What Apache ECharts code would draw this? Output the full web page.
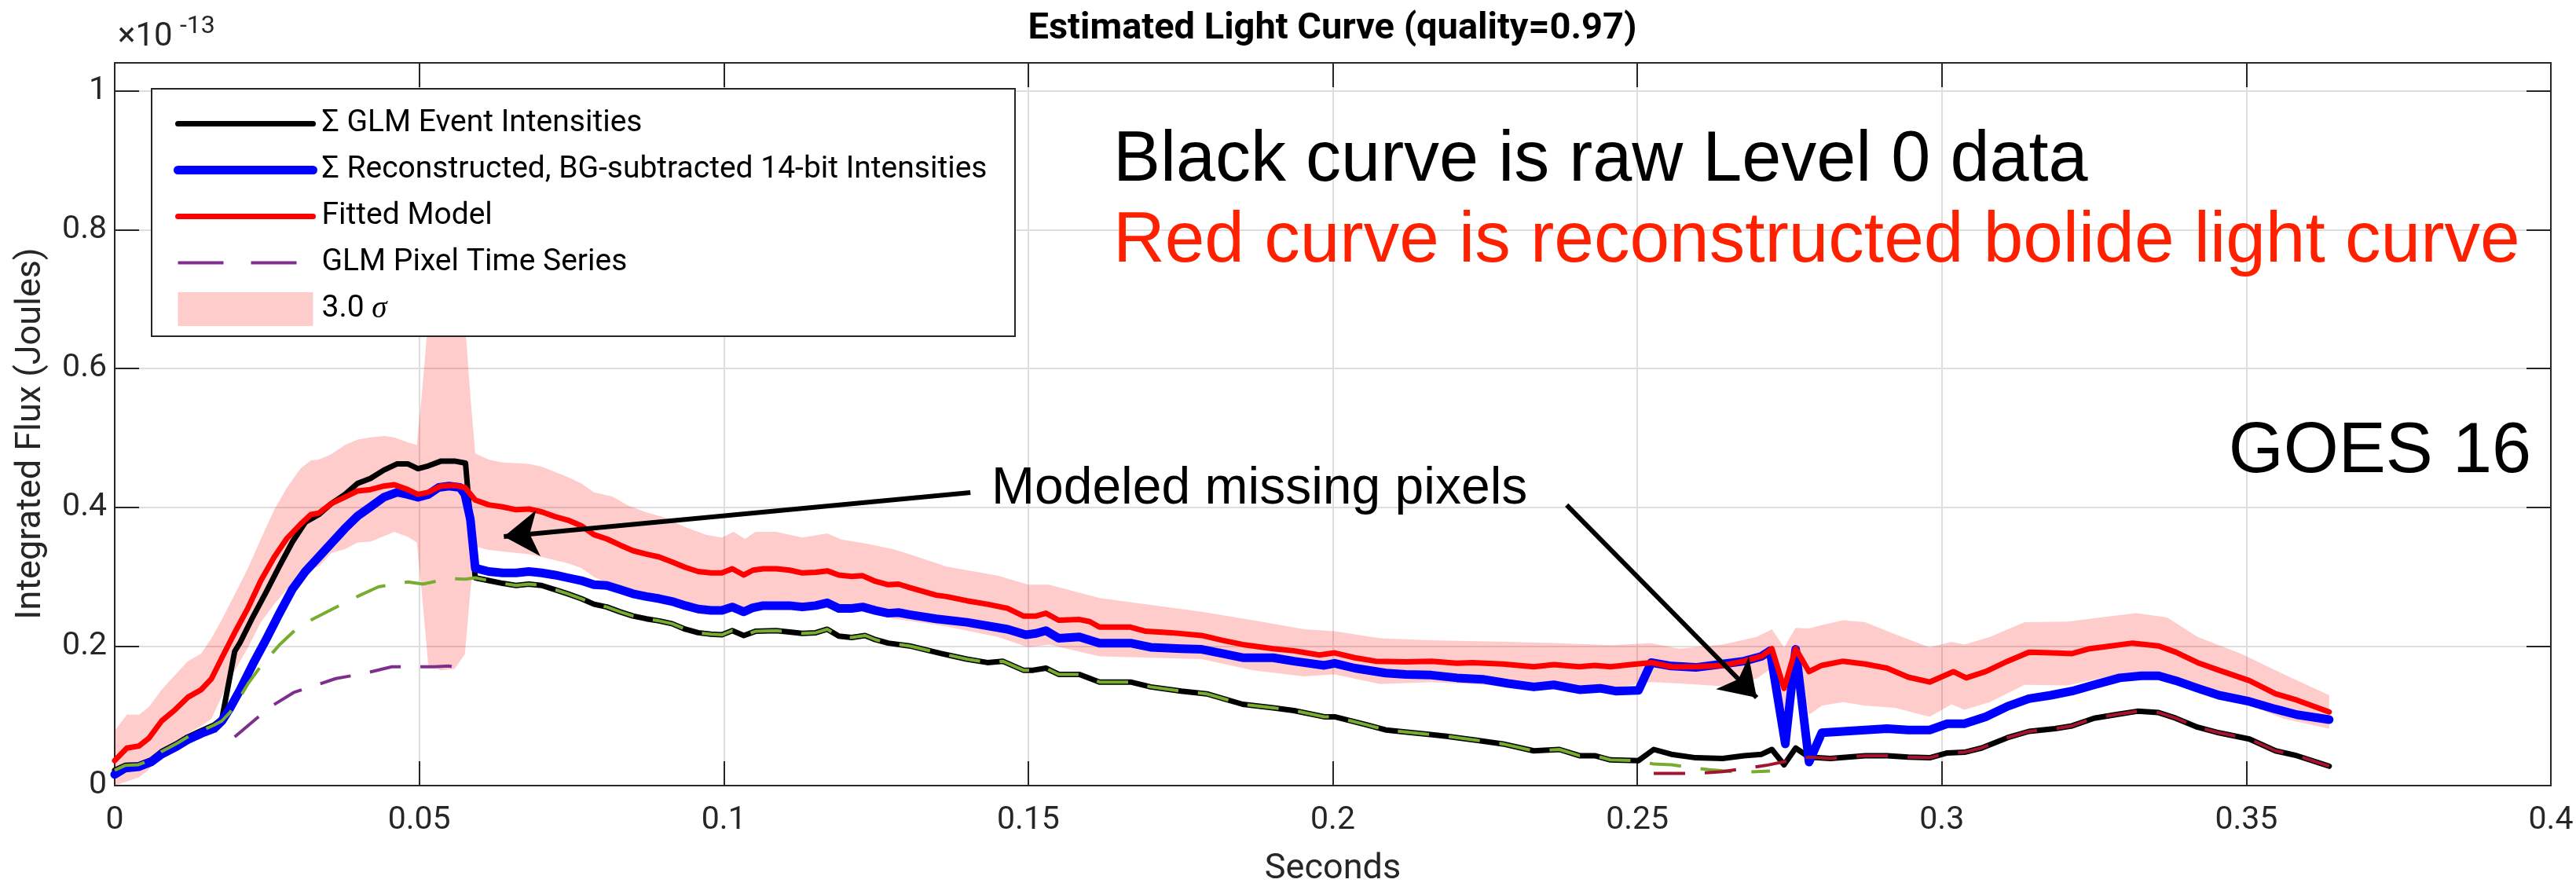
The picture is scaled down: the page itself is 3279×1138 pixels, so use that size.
<!DOCTYPE html>
<html>
<head>
<meta charset="utf-8">
<script src="https://cdn.jsdelivr.net/npm/echarts@6/dist/echarts.min.js"></script>
<style>
  html, body { margin: 0; padding: 0; background: #fff; }
  #chart { width: 3279px; height: 1138px; }
</style>
</head>
<body>
<div id="chart"></div>
<script>
// values, [seconds, flux x1e-13 J]
const glmEvent = [[0,0.022],[0.0017,0.029],[0.0039,0.03],[0.006,0.037],[0.0077,0.049],[0.0103,0.061],[0.012,0.07],[0.0142,0.079],[0.0163,0.087],[0.0176,0.096],[0.0189,0.156],[0.0197,0.193],[0.0206,0.206],[0.0227,0.243],[0.0249,0.279],[0.027,0.315],[0.0292,0.351],[0.0313,0.379],[0.0335,0.39],[0.0356,0.406],[0.0378,0.419],[0.0399,0.435],[0.042,0.442],[0.0442,0.454],[0.0464,0.463],[0.0481,0.463],[0.0498,0.456],[0.0515,0.46],[0.0536,0.467],[0.0558,0.467],[0.0576,0.464],[0.0592,0.299],[0.0614,0.295],[0.0637,0.291],[0.0659,0.288],[0.068,0.29],[0.0701,0.288],[0.0723,0.282],[0.0744,0.276],[0.0766,0.269],[0.0787,0.261],[0.0808,0.257],[0.083,0.25],[0.0851,0.244],[0.0873,0.24],[0.0894,0.237],[0.0915,0.233],[0.0937,0.225],[0.0958,0.22],[0.0979,0.218],[0.0997,0.217],[0.1014,0.223],[0.1033,0.216],[0.1052,0.222],[0.1086,0.223],[0.1108,0.221],[0.1129,0.219],[0.1151,0.22],[0.117,0.225],[0.1189,0.215],[0.121,0.213],[0.1232,0.216],[0.1249,0.21],[0.127,0.205],[0.1305,0.201],[0.1357,0.19],[0.1399,0.182],[0.1433,0.177],[0.1458,0.179],[0.1492,0.166],[0.1508,0.166],[0.1529,0.169],[0.155,0.16],[0.1584,0.16],[0.1617,0.149],[0.1668,0.149],[0.1701,0.142],[0.1751,0.136],[0.1793,0.132],[0.1852,0.117],[0.1902,0.112],[0.1936,0.108],[0.1986,0.099],[0.2003,0.099],[0.2053,0.088],[0.2087,0.08],[0.2154,0.074],[0.2187,0.071],[0.2238,0.065],[0.2279,0.06],[0.233,0.05],[0.2372,0.052],[0.2405,0.043],[0.243,0.043],[0.2456,0.037],[0.2502,0.036],[0.2527,0.052],[0.2556,0.045],[0.2596,0.04],[0.264,0.039],[0.2675,0.043],[0.2704,0.045],[0.2721,0.052],[0.2741,0.03],[0.276,0.054],[0.2782,0.041],[0.2817,0.039],[0.2874,0.043],[0.291,0.043],[0.2945,0.041],[0.298,0.04],[0.3009,0.047],[0.3037,0.048],[0.3065,0.054],[0.3108,0.069],[0.3143,0.078],[0.3186,0.082],[0.3214,0.086],[0.325,0.097],[0.3285,0.102],[0.3321,0.107],[0.3356,0.105],[0.3384,0.097],[0.342,0.084],[0.3455,0.076],[0.3505,0.067],[0.3548,0.05],[0.3583,0.043],[0.3636,0.028]];

const reconstructed = [[0,0.016],[0.0017,0.025],[0.0039,0.027],[0.006,0.034],[0.0077,0.045],[0.0103,0.057],[0.012,0.066],[0.0142,0.075],[0.0163,0.082],[0.0176,0.093],[0.0189,0.111],[0.0206,0.138],[0.0227,0.175],[0.0249,0.211],[0.027,0.247],[0.0292,0.283],[0.0313,0.308],[0.0335,0.329],[0.0356,0.349],[0.0378,0.37],[0.0399,0.388],[0.042,0.401],[0.0442,0.415],[0.0464,0.422],[0.0481,0.419],[0.0498,0.415],[0.0515,0.419],[0.0532,0.429],[0.0549,0.431],[0.0567,0.429],[0.0575,0.419],[0.0584,0.383],[0.0592,0.313],[0.0614,0.308],[0.0637,0.306],[0.0659,0.306],[0.068,0.308],[0.0701,0.306],[0.0723,0.303],[0.0744,0.299],[0.0766,0.295],[0.0787,0.289],[0.0808,0.288],[0.083,0.282],[0.0851,0.276],[0.0873,0.272],[0.0894,0.269],[0.0915,0.265],[0.0937,0.259],[0.0958,0.254],[0.0979,0.252],[0.0997,0.252],[0.1014,0.257],[0.1033,0.25],[0.1048,0.256],[0.1065,0.259],[0.1108,0.259],[0.1129,0.257],[0.1151,0.259],[0.117,0.263],[0.1189,0.255],[0.121,0.255],[0.1228,0.257],[0.1249,0.252],[0.127,0.248],[0.1287,0.249],[0.1305,0.246],[0.1349,0.24],[0.1399,0.235],[0.1466,0.225],[0.1496,0.217],[0.1513,0.219],[0.1529,0.223],[0.155,0.212],[0.1584,0.214],[0.1617,0.205],[0.1668,0.205],[0.1701,0.199],[0.1751,0.197],[0.1785,0.196],[0.1819,0.19],[0.1852,0.184],[0.1902,0.184],[0.1936,0.179],[0.1986,0.173],[0.2003,0.176],[0.2036,0.169],[0.2087,0.162],[0.212,0.16],[0.2162,0.159],[0.2204,0.155],[0.2246,0.153],[0.2288,0.147],[0.233,0.142],[0.2363,0.145],[0.2405,0.138],[0.2439,0.14],[0.2464,0.136],[0.2502,0.137],[0.2523,0.177],[0.2556,0.172],[0.2596,0.17],[0.264,0.175],[0.2675,0.179],[0.2704,0.186],[0.2718,0.194],[0.2743,0.06],[0.276,0.196],[0.2782,0.034],[0.2803,0.076],[0.2838,0.078],[0.2874,0.08],[0.291,0.082],[0.2945,0.08],[0.298,0.08],[0.3009,0.089],[0.3037,0.089],[0.3072,0.099],[0.3108,0.114],[0.3143,0.125],[0.3179,0.13],[0.3214,0.136],[0.325,0.145],[0.3292,0.155],[0.3328,0.158],[0.3356,0.158],[0.3384,0.151],[0.342,0.14],[0.3455,0.13],[0.3505,0.121],[0.3548,0.11],[0.3583,0.102],[0.3636,0.095]];

const fittedModel = [[0,0.036],[0.002,0.054],[0.004,0.057],[0.0056,0.068],[0.0077,0.093],[0.0099,0.109],[0.012,0.127],[0.0142,0.138],[0.0159,0.154],[0.0176,0.184],[0.0197,0.22],[0.0219,0.256],[0.024,0.295],[0.0262,0.329],[0.0283,0.356],[0.0305,0.376],[0.0322,0.39],[0.0335,0.392],[0.0356,0.406],[0.0378,0.415],[0.0399,0.424],[0.042,0.426],[0.0442,0.431],[0.0459,0.433],[0.0481,0.426],[0.0498,0.419],[0.0515,0.422],[0.0536,0.431],[0.0558,0.432],[0.0575,0.429],[0.0592,0.411],[0.0614,0.404],[0.0637,0.401],[0.0659,0.397],[0.068,0.398],[0.0701,0.394],[0.0723,0.387],[0.0744,0.382],[0.0766,0.374],[0.0787,0.361],[0.0808,0.355],[0.083,0.346],[0.0851,0.338],[0.0873,0.333],[0.0894,0.329],[0.0915,0.322],[0.0937,0.314],[0.0958,0.308],[0.0979,0.306],[0.0997,0.306],[0.1014,0.312],[0.1033,0.303],[0.1048,0.31],[0.1065,0.312],[0.1086,0.312],[0.1108,0.31],[0.1129,0.306],[0.1151,0.307],[0.117,0.309],[0.1189,0.303],[0.121,0.301],[0.1228,0.302],[0.1249,0.294],[0.127,0.289],[0.1287,0.29],[0.1305,0.285],[0.1349,0.274],[0.1366,0.272],[0.1399,0.266],[0.1433,0.261],[0.1466,0.255],[0.1492,0.244],[0.1513,0.244],[0.1529,0.248],[0.155,0.238],[0.1584,0.239],[0.1601,0.236],[0.1617,0.228],[0.1668,0.228],[0.1693,0.222],[0.1735,0.22],[0.1785,0.216],[0.1819,0.209],[0.1852,0.203],[0.1902,0.197],[0.1936,0.194],[0.1978,0.188],[0.2003,0.191],[0.2036,0.184],[0.207,0.179],[0.212,0.178],[0.2162,0.179],[0.2204,0.176],[0.2229,0.177],[0.2279,0.175],[0.233,0.171],[0.2363,0.174],[0.2405,0.171],[0.243,0.173],[0.2456,0.171],[0.2489,0.174],[0.2523,0.177],[0.2556,0.171],[0.2596,0.171],[0.264,0.173],[0.2675,0.179],[0.2704,0.186],[0.2721,0.197],[0.2741,0.14],[0.276,0.197],[0.2782,0.164],[0.2803,0.173],[0.2838,0.179],[0.2874,0.175],[0.291,0.169],[0.2945,0.156],[0.298,0.149],[0.3019,0.164],[0.304,0.155],[0.3072,0.164],[0.3108,0.179],[0.3143,0.192],[0.3179,0.191],[0.3214,0.19],[0.3243,0.197],[0.3278,0.201],[0.3313,0.205],[0.3356,0.201],[0.3384,0.192],[0.342,0.177],[0.3455,0.166],[0.3505,0.151],[0.3548,0.132],[0.3583,0.123],[0.3636,0.106]];

// GLM pixel time series (dashed)
const pixelPurple = [[0.0197,0.07],[0.0255,0.113],[0.0294,0.134],[0.0363,0.154],[0.0408,0.161],[0.0455,0.171],[0.0479,0.171],[0.0524,0.171],[0.0549,0.172],[0.0576,0.167]];
const pixelGreen = [[0,0.022],[0.0017,0.029],[0.0039,0.03],[0.006,0.037],[0.0077,0.049],[0.0103,0.061],[0.012,0.07],[0.0142,0.079],[0.0163,0.087],[0.0176,0.093],[0.0189,0.105],[0.0202,0.122],[0.022,0.148],[0.024,0.172],[0.027,0.202],[0.03,0.227],[0.0326,0.24],[0.0369,0.259],[0.0403,0.274],[0.0433,0.286],[0.0481,0.293],[0.0506,0.29],[0.0549,0.298],[0.0576,0.297],[0.0592,0.299],[0.0614,0.295],[0.0637,0.291],[0.0659,0.288],[0.068,0.29],[0.0701,0.288],[0.0723,0.282],[0.0744,0.276],[0.0766,0.269],[0.0787,0.261],[0.0808,0.257],[0.083,0.25],[0.0851,0.244],[0.0873,0.24],[0.0894,0.237],[0.0915,0.233],[0.0937,0.225],[0.0958,0.22],[0.0979,0.218],[0.0997,0.217],[0.1014,0.223],[0.1033,0.216],[0.1052,0.222],[0.1086,0.223],[0.1108,0.221],[0.1129,0.219],[0.1151,0.22],[0.117,0.225],[0.1189,0.215],[0.121,0.213],[0.1232,0.216],[0.1249,0.21],[0.127,0.205],[0.1305,0.201],[0.1357,0.19],[0.1399,0.182],[0.1433,0.177],[0.1458,0.179],[0.1492,0.166],[0.1508,0.166],[0.1529,0.169],[0.155,0.16],[0.1584,0.16],[0.1617,0.149],[0.1668,0.149],[0.1701,0.142],[0.1751,0.136],[0.1793,0.132],[0.1852,0.117],[0.1902,0.112],[0.1936,0.108],[0.1986,0.099],[0.2003,0.099],[0.2053,0.088],[0.2087,0.08],[0.2154,0.074],[0.2187,0.071],[0.2238,0.065],[0.2279,0.06],[0.233,0.05],[0.2372,0.052],[0.2405,0.043],[0.243,0.043],[0.2456,0.037],[0.2502,0.036],[0.2527,0.031],[0.2556,0.03],[0.2596,0.025],[0.2618,0.023],[0.2668,0.019],[0.2718,0.021]];
const pixelMaroon = [[0.2527,0.0175],[0.2596,0.0175],[0.264,0.02],[0.2711,0.029],[0.2767,0.039],[0.2782,0.041],[0.2817,0.039],[0.2874,0.043],[0.291,0.043],[0.2945,0.041],[0.298,0.04],[0.3009,0.047],[0.3037,0.048],[0.3065,0.054],[0.3108,0.069],[0.3143,0.078],[0.3186,0.082],[0.3214,0.086],[0.325,0.097],[0.3285,0.102],[0.3321,0.107],[0.3356,0.105],[0.3384,0.097],[0.342,0.084],[0.3455,0.076],[0.3505,0.067],[0.3548,0.05],[0.3583,0.043],[0.3636,0.028]];

// 3-sigma band: [seconds, top, bottom]
const sigmaBand = [[0,0.079,0],[0.002,0.102,0.006],[0.004,0.102,0.012],[0.0056,0.113,0.023],[0.0077,0.138,0.048],[0.0099,0.159,0.059],[0.012,0.179,0.075],[0.0142,0.19,0.086],[0.0159,0.212,0.096],[0.0176,0.239,0.129],[0.0197,0.275,0.165],[0.0219,0.313,0.199],[0.024,0.355,0.235],[0.0262,0.397,0.261],[0.0283,0.429,0.283],[0.0305,0.456,0.296],[0.0322,0.468,0.312],[0.0335,0.469,0.315],[0.0356,0.477,0.335],[0.0378,0.49,0.34],[0.0399,0.498,0.35],[0.042,0.501,0.351],[0.0442,0.503,0.359],[0.0459,0.501,0.365],[0.0481,0.494,0.358],[0.0496,0.49,0.35],[0.0504,0.56,0.28],[0.0515,0.672,0.172],[0.0536,0.696,0.166],[0.0558,0.696,0.168],[0.0575,0.669,0.189],[0.0584,0.56,0.28],[0.0592,0.478,0.344],[0.0614,0.469,0.339],[0.0637,0.465,0.337],[0.068,0.463,0.333],[0.0701,0.459,0.329],[0.0744,0.444,0.32],[0.0766,0.435,0.313],[0.0787,0.422,0.3],[0.0817,0.416,0.288],[0.0843,0.403,0.279],[0.0873,0.393,0.273],[0.0902,0.386,0.268],[0.0937,0.372,0.256],[0.0971,0.361,0.253],[0.0997,0.357,0.255],[0.1016,0.365,0.257],[0.1035,0.355,0.251],[0.1052,0.365,0.257],[0.1086,0.365,0.259],[0.1129,0.357,0.255],[0.117,0.363,0.255],[0.1193,0.354,0.252],[0.1236,0.348,0.252],[0.1279,0.34,0.24],[0.1305,0.333,0.237],[0.1366,0.315,0.229],[0.145,0.302,0.214],[0.15,0.289,0.199],[0.1534,0.289,0.203],[0.1617,0.27,0.186],[0.1701,0.26,0.184],[0.1785,0.25,0.182],[0.1869,0.238,0.166],[0.1953,0.225,0.157],[0.2003,0.222,0.16],[0.2078,0.212,0.146],[0.2162,0.209,0.149],[0.2288,0.207,0.143],[0.2372,0.205,0.141],[0.2456,0.202,0.14],[0.2523,0.205,0.149],[0.2569,0.197,0.147],[0.264,0.203,0.143],[0.2696,0.214,0.154],[0.2721,0.225,0.169],[0.2741,0.199,0.081],[0.276,0.227,0.167],[0.2782,0.226,0.102],[0.2803,0.231,0.115],[0.2838,0.238,0.12],[0.2874,0.235,0.115],[0.2923,0.218,0.112],[0.298,0.199,0.099],[0.3016,0.207,0.117],[0.3037,0.203,0.109],[0.3079,0.214,0.12],[0.3136,0.235,0.145],[0.3207,0.236,0.144],[0.3278,0.244,0.158],[0.332,0.248,0.162],[0.337,0.242,0.154],[0.342,0.214,0.14],[0.3491,0.19,0.12],[0.3562,0.16,0.096],[0.3636,0.13,0.082]];

const xTicks = { min: 0, max: 0.4, step: 0.05 };
const yTicks = { min: 0, max: 1.04, step: 0.2 };

// arrow annotations in data space: [from, tip]
const arrowLeft = [[0.1405, 0.4217], [0.0639, 0.3584]];
const arrowRight = [[0.2384, 0.4036], [0.2696, 0.1266]];

const names = {
  event: 'Σ GLM Event Intensities',
  recon: 'Σ Reconstructed, BG-subtracted 14-bit Intensities',
  model: 'Fitted Model',
  pixel: 'GLM Pixel Time Series',
  band: '3.0 σ'
};

const axisColor = '#262626';
const font = 'Roboto, "Liberation Sans", sans-serif';
const annoFont = '"Liberation Sans", Arial, sans-serif';

const chart = echarts.init(document.getElementById('chart'), null, { renderer: 'canvas' });

function xAxisDef(pos) {
  const bottom = pos === 'bottom';
  return {
    type: 'value', position: pos, min: xTicks.min, max: xTicks.max, interval: xTicks.step,
    axisLine: { show: true, onZero: false, lineStyle: { color: axisColor, width: 2 } },
    axisTick: { show: true, inside: true, length: 31, lineStyle: { color: axisColor, width: 2 } },
    axisLabel: { show: bottom, margin: 24, fontSize: 41, color: axisColor, fontFamily: font },
    splitLine: { show: bottom, lineStyle: { color: '#dedede', width: 2 } },
    name: bottom ? 'Seconds' : '', nameLocation: 'middle', nameGap: 84,
    nameTextStyle: { fontSize: 45, color: axisColor, fontFamily: font }
  };
}
function yAxisDef(pos) {
  const left = pos === 'left';
  return {
    type: 'value', position: pos, min: yTicks.min, max: yTicks.max, interval: yTicks.step,
    axisLine: { show: true, onZero: false, lineStyle: { color: axisColor, width: 2 } },
    axisTick: { show: true, inside: true, length: 31, lineStyle: { color: axisColor, width: 2 } },
    axisLabel: {
      show: left, margin: 10, fontSize: 41, color: axisColor, fontFamily: font,
      formatter: v => (Math.abs(v - yTicks.max) < 1e-9 ? '' : String(parseFloat(v.toFixed(2))))
    },
    splitLine: { show: left, lineStyle: { color: '#dedede', width: 2 } },
    name: left ? 'Integrated Flux (Joules)' : '', nameLocation: 'middle', nameGap: 84,
    nameTextStyle: { fontSize: 45, color: axisColor, fontFamily: font, padding: [0, 24, 0, 0] }
  };
}

function lineSeries(name, data, color, width, dashed) {
  return {
    name, type: 'line', data, symbol: 'none', showSymbol: false,
    lineStyle: {
      color, width, type: dashed ? [40, 25] : 'solid',
      cap: dashed ? 'butt' : 'round', join: 'round'
    },
    itemStyle: { color },
    emphasis: { disabled: true },
    silent: true
  };
}

chart.setOption({
  animation: false,
  backgroundColor: '#fff',
  title: {
    text: 'Estimated Light Curve (quality=0.97)',
    left: 1696, top: 14, textAlign: 'center', padding: 0,
    textStyle: { fontFamily: font, fontWeight: 'bold', fontSize: 47, color: '#000' }
  },
  grid: { left: 146, right: 32, top: 80, bottom: 138, containLabel: false },
  xAxis: [xAxisDef('bottom'), xAxisDef('top')],
  yAxis: [yAxisDef('left'), yAxisDef('right')],
  legend: {
    orient: 'vertical', left: 216, top: 131,
    itemWidth: 172, itemHeight: 43, itemGap: 16,
    selectedMode: false, z: 60,
    lineStyle: { width: 'inherit' },
    itemStyle: { opacity: 0 },
    textStyle: {
      fontFamily: font, fontSize: 39, lineHeight: 43, color: '#000', padding: [0, 0, 0, 6],
      rich: { i: { fontFamily: '"Liberation Serif", serif', fontStyle: 'italic', fontSize: 39, lineHeight: 43, color: '#000' } }
    },
    formatter: n => (n === names.band ? '3.0 {i|σ}' : n),
    data: [
      { name: names.event },
      { name: names.recon },
      { name: names.model },
      { name: names.pixel, lineStyle: { type: [58, 35], width: 4 } },
      { name: names.band, icon: 'rect', itemStyle: { color: 'rgba(255,0,0,0.2)', opacity: 1, borderWidth: 0 } }
    ]
  },
  graphic: {
    elements: [
      { type: 'rect', z: 50, shape: { x: 193, y: 113, width: 1099, height: 315 },
        style: { fill: '#fff', stroke: axisColor, lineWidth: 2 } },
      { type: 'text', z: 60, style: { x: 150, y: 47, text: '×10', font: '42px ' + font, fill: axisColor, verticalAlign: 'middle' } },
      { type: 'text', z: 60, style: { x: 229, y: 34, text: '-13', font: '32px ' + font, fill: axisColor, verticalAlign: 'middle' } },
      { type: 'text', z: 60, style: { x: 1417, y: 205, text: 'Black curve is raw Level 0 data', font: '90px ' + annoFont, fill: '#000', verticalAlign: 'middle' } },
      { type: 'text', z: 60, style: { x: 1417, y: 308, text: 'Red curve is reconstructed bolide light curve', font: '91px ' + annoFont, fill: '#ff2000', verticalAlign: 'middle' } },
      { type: 'text', z: 60, style: { x: 3222, y: 576, text: 'GOES 16', font: '90px ' + annoFont, fill: '#000', align: 'right', verticalAlign: 'middle' } },
      { type: 'text', z: 60, style: { x: 1262, y: 623, text: 'Modeled missing pixels', font: '66px ' + annoFont, fill: '#000', verticalAlign: 'middle' } }
    ]
  },
  series: [
    lineSeries(names.event, glmEvent, '#000000', 7, false),
    lineSeries(names.recon, reconstructed, '#0000ff', 11, false),
    lineSeries(names.pixel, pixelPurple, '#7e2f8e', 4, true),
    lineSeries('GLM Pixel 2', pixelGreen, '#77ac30', 4, true),
    lineSeries('GLM Pixel 3', pixelMaroon, '#a2142f', 4, true),
    {
      name: names.band, type: 'custom', silent: true, clip: true,
      itemStyle: { color: 'rgba(255,0,0,0.2)' },
      encode: { x: 0, y: [1, 2] },
      data: sigmaBand,
      renderItem: (params, api) => {
        if (params.dataIndex !== 0) return;
        const top = sigmaBand.map(r => api.coord([r[0], r[1]]));
        const bottom = sigmaBand.slice().reverse().map(r => api.coord([r[0], r[2]]));
        return {
          type: 'polygon',
          shape: { points: top.concat(bottom) },
          style: { fill: 'rgba(255,0,0,0.2)', stroke: null }
        };
      }
    },
    Object.assign(lineSeries(names.model, fittedModel, '#ff0000', 7, false), {
      markLine: {
        silent: true, animation: false,
        symbol: ['none', 'arrow'], symbolSize: 44,
        label: { show: false },
        lineStyle: { color: '#000', width: 6, type: 'solid', cap: 'butt' },
        emphasis: { disabled: true },
        data: [
          [{ coord: arrowLeft[0] }, { coord: arrowLeft[1] }],
          [{ coord: arrowRight[0] }, { coord: arrowRight[1] }]
        ]
      }
    })
  ]
});
</script>
</body>
</html>
